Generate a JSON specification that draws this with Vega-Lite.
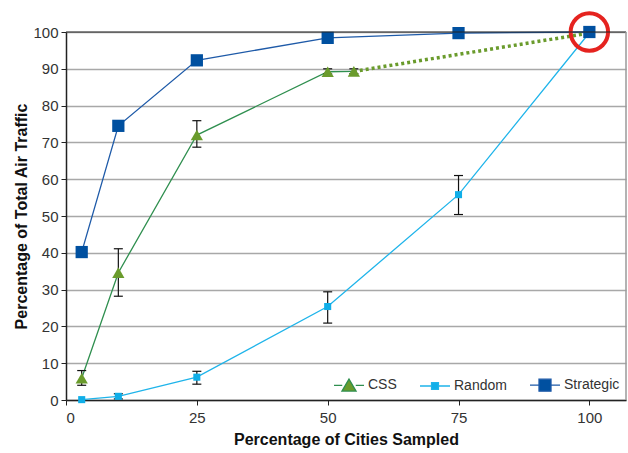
{
  "$schema": "https://vega.github.io/schema/vega-lite/v6.json",
  "width": 560,
  "height": 368,
  "autosize": {"type": "none"},
  "padding": {"left": 66, "top": 32, "right": 2, "bottom": 53},
  "background": "white",
  "config": {
    "font": "Liberation Sans",
    "view": {"stroke": null},
    "axisX": {
      "titleFontSize": 16, "titleFontWeight": "bold", "titleColor": "#111111", "titlePadding": 6,
      "labelFontSize": 15, "labelColor": "#333333", "labelPadding": 5,
      "domainColor": "#222222", "domainWidth": 1.5, "tickColor": "#222222", "tickSize": 5,
      "grid": false
    },
    "axisY": {
      "titleFontSize": 16, "titleFontWeight": "bold", "titleColor": "#111111", "titlePadding": 3,
      "labelFontSize": 15, "labelColor": "#333333", "labelPadding": 3,
      "domainColor": "#222222", "domainWidth": 1.5, "tickColor": "#222222", "tickSize": 5,
      "grid": true, "gridColor": "#a8a8a8", "gridWidth": 1.5, "labelOverlap": false
    },
    "legend": {
      "title": null, "orient": "bottom-right", "direction": "horizontal",
      "labelFontSize": 14, "labelColor": "#333333", "columnPadding": 20,
      "offset": 6, "symbolSize": 900, "symbolStrokeWidth": 1.3, "labelOffset": 3
    }
  },
  "datasets": {
    "main": [
      {"series": "Strategic", "x": 3, "y": 40.2},
      {"series": "Strategic", "x": 10, "y": 74.5},
      {"series": "Strategic", "x": 25, "y": 92.3},
      {"series": "Strategic", "x": 50, "y": 98.4},
      {"series": "Strategic", "x": 75, "y": 99.7},
      {"series": "Strategic", "x": 100, "y": 100},
      {"series": "CSS", "x": 3, "y": 5.9, "lo": 4.0, "hi": 8.0},
      {"series": "CSS", "x": 10, "y": 34.6, "lo": 28.2, "hi": 41.1},
      {"series": "CSS", "x": 25, "y": 72.0, "lo": 68.7, "hi": 75.9},
      {"series": "CSS", "x": 50, "y": 89.2, "lo": 88.6, "hi": 90.0},
      {"series": "CSS", "x": 55, "y": 89.3, "lo": 88.7, "hi": 90.0},
      {"series": "Random", "x": 3, "y": 0.1},
      {"series": "Random", "x": 10, "y": 1.0, "lo": 0.3, "hi": 1.7},
      {"series": "Random", "x": 25, "y": 6.2, "lo": 4.3, "hi": 7.8},
      {"series": "Random", "x": 50, "y": 25.4, "lo": 20.9, "hi": 29.4},
      {"series": "Random", "x": 75, "y": 55.8, "lo": 50.4, "hi": 61.0},
      {"series": "Random", "x": 100, "y": 99.8, "lo": 99.4, "hi": 100}
    ],
    "ext": [
      {"x": 55, "y": 89.3},
      {"x": 100, "y": 99.7}
    ],
    "mark": [
      {"x": 100, "y": 100}
    ]
  },
  "encoding": {
    "x": {"field": "x", "type": "quantitative", "title": "Percentage of Cities Sampled", "scale": {"domain": [0, 107], "nice": false}, "axis": {"values": [0, 25, 50, 75, 100]}},
    "y": {"field": "y", "type": "quantitative", "title": "Percentage of Total Air Traffic", "scale": {"domain": [0, 100], "nice": false}, "axis": {"values": [0, 10, 20, 30, 40, 50, 60, 70, 80, 90, 100]}}
  },
  "layer": [
    {
      "data": {"name": "main"},
      "mark": {"type": "line", "strokeWidth": 1.3},
      "encoding": {
        "color": {
          "field": "series", "type": "nominal",
          "scale": {"domain": ["CSS", "Random", "Strategic"], "range": ["#2f8f4f", "#1fb4ea", "#1e5aa8"]}
        }
      }
    },
    {
      "data": {"name": "ext"},
      "mark": {"type": "line", "color": "#6a9b2c", "strokeWidth": 3.5, "strokeDash": [3, 3]},
      "encoding": {}
    },
    {
      "data": {"name": "main"},
      "transform": [{"filter": "datum.lo != null"}],
      "mark": {"type": "rule", "color": "#111111", "strokeWidth": 1.2},
      "encoding": {
        "y": {"field": "lo", "type": "quantitative"},
        "y2": {"field": "hi"}
      }
    },
    {
      "data": {"name": "main"},
      "transform": [{"filter": "datum.lo != null"}],
      "mark": {"type": "tick", "orient": "horizontal", "color": "#111111", "thickness": 1.2, "size": 9, "opacity": 1},
      "encoding": {
        "y": {"field": "lo", "type": "quantitative"}
      }
    },
    {
      "data": {"name": "main"},
      "transform": [{"filter": "datum.lo != null"}],
      "mark": {"type": "tick", "orient": "horizontal", "color": "#111111", "thickness": 1.2, "size": 9, "opacity": 1},
      "encoding": {
        "y": {"field": "hi", "type": "quantitative"}
      }
    },
    {
      "data": {"name": "main"},
      "transform": [{"filter": "datum.series == 'CSS'"}],
      "mark": {"type": "point", "filled": true, "opacity": 1, "shape": "triangle-up", "size": 150, "color": "#6a9b2c"}
    },
    {
      "data": {"name": "main"},
      "transform": [{"filter": "datum.series == 'Random'"}],
      "mark": {"type": "square", "opacity": 1, "size": 50, "color": "#10aee8"}
    },
    {
      "data": {"name": "main"},
      "transform": [{"filter": "datum.series == 'Strategic'"}],
      "mark": {"type": "square", "opacity": 1, "size": 150, "color": "#0050a0"}
    },
    {
      "data": {"name": "main"},
      "transform": [{"filter": "false"}],
      "mark": {"type": "point", "filled": true, "opacity": 1, "strokeWidth": 1.3, "size": 900},
      "encoding": {
        "fill": {
          "field": "series", "type": "nominal",
          "scale": {"domain": ["CSS", "Random", "Strategic"], "range": ["#6a9b2c", "#10aee8", "#0050a0"]}
        },
        "stroke": {
          "field": "series", "type": "nominal",
          "scale": {"domain": ["CSS", "Random", "Strategic"], "range": ["#2f8f4f", "#1fb4ea", "#1e5aa8"]}
        },
        "shape": {
          "field": "series", "type": "nominal",
          "scale": {"domain": ["CSS", "Random", "Strategic"], "range": [
            "M-1,0H-0.45M0.45,0H1M0,-0.42L0.47,0.38H-0.47Z",
            "M-1,0H-0.23M0.23,0H1M-0.23,-0.23H0.23V0.23H-0.23Z",
            "M-1,0H-0.4M0.4,0H1M-0.4,-0.4H0.4V0.4H-0.4Z"
          ]}
        }
      }
    },
    {
      "data": {"name": "mark"},
      "mark": {"type": "point", "shape": "circle", "filled": false, "stroke": "#e5231f", "strokeWidth": 4, "size": 1400, "opacity": 1}
    },
    {
      "data": {"values": [{"y": 100}]},
      "mark": {"type": "rule", "color": "#222222", "strokeWidth": 1},
      "encoding": {"x": {"value": 0}, "x2": {"value": 560}}
    },
    {
      "data": {"values": [{"x": 107}]},
      "mark": {"type": "rule", "color": "#9a9a9a", "strokeWidth": 1.5},
      "encoding": {"y": {"value": 0}, "y2": {"value": 368}}
    }
  ]
}
